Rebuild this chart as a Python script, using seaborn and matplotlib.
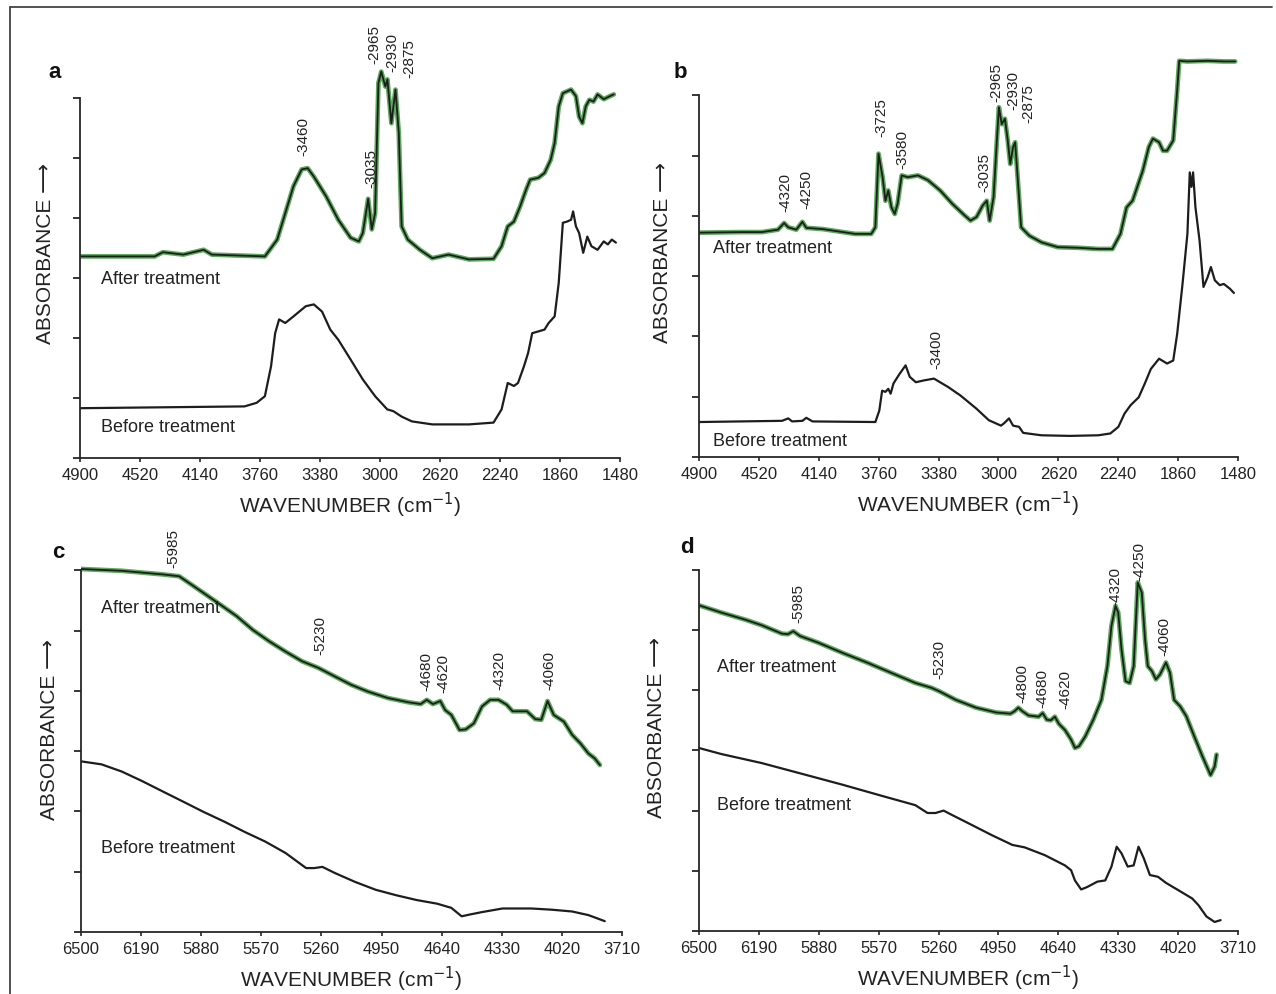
import matplotlib
matplotlib.use("Agg")
import matplotlib.pyplot as plt
import seaborn as sns
from matplotlib.lines import Line2D

sns.set_style("ticks")
plt.rcParams["font.family"] = ["Liberation Sans", "DejaVu Sans"]
plt.rcParams["axes.linewidth"] = 1.3

# ---- Panel a (4900-1480 cm-1) ----
a_despues_wn = [4892, 4427, 4375, 4246, 4117, 4065, 3729, 3651, 3600, 3548, 3496, 3458,
                3419, 3341, 3264, 3186, 3134, 3109, 3075, 3052, 3031, 3010, 2992, 2966,
                2953, 2928, 2902, 2881, 2863, 2824, 2747, 2669, 2566, 2437, 2281, 2230,
                2191, 2152, 2113, 2075, 2049, 1997, 1958, 1919, 1894, 1868, 1842, 1790,
                1759, 1739, 1718, 1697, 1674, 1648, 1622, 1583, 1545, 1519]
a_despues_ab = [3.36, 3.36, 3.43, 3.39, 3.47, 3.39, 3.36, 3.64, 4.08, 4.53, 4.81, 4.83,
                4.69, 4.36, 3.97, 3.67, 3.61, 3.75, 4.32, 3.81, 4.08, 6.25, 6.44, 6.19,
                6.31, 5.58, 6.14, 5.42, 3.86, 3.64, 3.47, 3.33, 3.39, 3.31, 3.32, 3.53,
                3.86, 3.94, 4.19, 4.47, 4.64, 4.67, 4.75, 4.97, 5.25, 5.86, 6.08, 6.14,
                6.03, 5.69, 5.58, 5.86, 5.97, 5.94, 6.06, 5.98, 6.03, 6.06]
a_antes_wn = [4900, 3858, 3781, 3729, 3690, 3664, 3639, 3600, 3548, 3470, 3419, 3367,
              3315, 3264, 3186, 3109, 3031, 2954, 2915, 2863, 2798, 2669, 2437, 2281,
              2230, 2191, 2152, 2126, 2088, 2062, 2036, 1997, 1958, 1932, 1894, 1868,
              1842, 1816, 1790, 1777, 1759, 1739, 1713, 1687, 1661, 1622, 1583, 1557,
              1532, 1506]
a_antes_ab = [0.83, 0.86, 0.92, 1.03, 1.53, 2.08, 2.31, 2.25, 2.36, 2.53, 2.56, 2.44,
              2.14, 1.97, 1.64, 1.31, 1.03, 0.81, 0.78, 0.69, 0.61, 0.56, 0.56, 0.59,
              0.81, 1.25, 1.20, 1.25, 1.53, 1.75, 2.08, 2.11, 2.14, 2.25, 2.36, 2.92,
              3.92, 3.94, 3.97, 4.11, 3.86, 3.75, 3.42, 3.69, 3.53, 3.47, 3.61, 3.56,
              3.64, 3.59]
a_picos = ["-3460", "-3035", "-2965", "-2930", "-2875"]
a_picos_x = [3483, 3057, 3036, 2920, 2811]
a_picos_y = [5.03, 4.50, 6.56, 6.44, 6.33]

# ---- Panel b (4900-1480 cm-1) ----
b_despues_wn = [4900, 4630, 4501, 4399, 4360, 4334, 4283, 4244, 4219, 4116, 4064, 3910,
                3807, 3781, 3761, 3735, 3717, 3699, 3679, 3658, 3640, 3614, 3576, 3511,
                3447, 3370, 3293, 3216, 3177, 3139, 3100, 3074, 3056, 3031, 3010, 2997,
                2979, 2959, 2941, 2925, 2907, 2894, 2874, 2856, 2804, 2727, 2624, 2496,
                2367, 2277, 2226, 2187, 2149, 2084, 2046, 2020, 1981, 1956, 1930, 1891,
                1866, 1853, 1801, 1673, 1570, 1498]
b_despues_ab = [3.72, 3.73, 3.73, 3.77, 3.88, 3.81, 3.77, 3.90, 3.80, 3.78, 3.76, 3.70,
                3.70, 3.81, 5.03, 4.64, 4.25, 4.42, 4.14, 4.03, 4.20, 4.67, 4.64, 4.67,
                4.59, 4.42, 4.20, 4.01, 3.92, 3.98, 4.17, 4.25, 3.92, 4.31, 5.25, 5.80,
                5.52, 5.61, 5.25, 4.86, 5.14, 5.22, 4.48, 3.81, 3.67, 3.56, 3.48, 3.47,
                3.45, 3.45, 3.70, 4.14, 4.25, 4.75, 5.14, 5.28, 5.22, 5.08, 5.08, 5.25,
                6.08, 6.57, 6.56, 6.57, 6.56, 6.56]
b_antes_wn = [4900, 4373, 4334, 4309, 4244, 4219, 4180, 3781, 3756, 3738, 3717, 3699,
              3684, 3666, 3627, 3589, 3563, 3524, 3473, 3409, 3319, 3241, 3139, 3061,
              2984, 2964, 2933, 2907, 2869, 2843, 2727, 2547, 2367, 2290, 2239, 2200,
              2161, 2110, 2071, 2033, 1981, 1930, 1891, 1866, 1832, 1801, 1786, 1775,
              1765, 1750, 1724, 1699, 1673, 1652, 1627, 1596, 1570, 1531, 1506]
b_antes_ab = [0.58, 0.60, 0.64, 0.59, 0.60, 0.65, 0.59, 0.58, 0.77, 1.10, 1.08, 1.13,
              1.05, 1.22, 1.38, 1.52, 1.33, 1.24, 1.27, 1.30, 1.16, 1.02, 0.80, 0.61,
              0.52, 0.56, 0.64, 0.52, 0.50, 0.40, 0.36, 0.35, 0.36, 0.39, 0.50, 0.72,
              0.86, 0.99, 1.22, 1.46, 1.63, 1.55, 1.60, 2.04, 2.87, 3.70, 4.72, 4.48,
              4.72, 4.14, 3.59, 2.82, 2.98, 3.15, 2.93, 2.85, 2.87, 2.79, 2.72]
b_picos = ["-4320", "-4250", "-3725", "-3580", "-3035", "-2965", "-2930", "-2875", "-3400"]
b_picos_x = [4355, 4219, 3743, 3607, 3087, 3010, 2907, 2810, 3396]
b_picos_y = [4.06, 4.12, 5.30, 4.78, 4.39, 5.88, 5.75, 5.54, 1.46]

# ---- Panel c (6500-3710 cm-1) ----
c_despues_wn = [6500, 6289, 6078, 5994, 5930, 5867, 5782, 5698, 5614, 5529, 5445, 5360,
                5276, 5192, 5107, 5023, 4917, 4812, 4748, 4717, 4685, 4647, 4622, 4590,
                4548, 4516, 4474, 4432, 4390, 4347, 4305, 4274, 4200, 4157, 4126, 4094,
                4062, 4010, 3967, 3925, 3883, 3851, 3824]
c_despues_ab = [6.02, 5.99, 5.93, 5.90, 5.76, 5.62, 5.43, 5.24, 5.01, 4.82, 4.65, 4.49,
                4.38, 4.24, 4.10, 3.99, 3.88, 3.81, 3.78, 3.85, 3.78, 3.83, 3.68, 3.60,
                3.35, 3.36, 3.46, 3.74, 3.85, 3.85, 3.77, 3.66, 3.66, 3.53, 3.52, 3.83,
                3.60, 3.49, 3.27, 3.13, 2.96, 2.88, 2.77]
c_antes_wn = [6500, 6394, 6289, 6183, 6078, 5972, 5867, 5761, 5656, 5550, 5445, 5339,
              5297, 5255, 5192, 5086, 4980, 4875, 4769, 4664, 4590, 4537, 4495, 4432,
              4326, 4179, 4073, 3967, 3883, 3799]
c_antes_ab = [2.83, 2.78, 2.66, 2.50, 2.33, 2.16, 1.99, 1.83, 1.66, 1.50, 1.31, 1.06,
              1.06, 1.08, 0.98, 0.83, 0.70, 0.61, 0.53, 0.47, 0.40, 0.26, 0.29, 0.33,
              0.39, 0.39, 0.37, 0.34, 0.28, 0.18]
c_picos = ["-5985", "-5230", "-4680", "-4620", "-4320", "-4060"]
c_picos_x = [6025, 5265, 4717, 4632, 4343, 4084]
c_picos_y = [6.04, 4.60, 3.99, 3.96, 4.02, 4.02]

# ---- Panel d (6500-3710 cm-1) ----
d_despues_wn = [6500, 6385, 6259, 6176, 6071, 6040, 6012, 5977, 5883, 5757, 5631, 5506,
                5380, 5297, 5255, 5171, 5066, 4962, 4888, 4867, 4847, 4826, 4794, 4742,
                4721, 4700, 4679, 4658, 4637, 4606, 4574, 4554, 4533, 4501, 4459, 4417,
                4386, 4365, 4344, 4330, 4313, 4292, 4271, 4250, 4229, 4208, 4191, 4177,
                4156, 4135, 4114, 4083, 4062, 4041, 4009, 3978, 3936, 3894, 3852, 3831,
                3821]
d_despues_ab = [5.41, 5.29, 5.17, 5.08, 4.94, 4.93, 4.98, 4.90, 4.79, 4.62, 4.46, 4.29,
                4.12, 4.04, 3.98, 3.84, 3.71, 3.63, 3.61, 3.65, 3.71, 3.65, 3.58, 3.56,
                3.62, 3.51, 3.50, 3.56, 3.44, 3.34, 3.18, 3.04, 3.07, 3.23, 3.51, 3.84,
                4.40, 5.07, 5.40, 5.29, 4.68, 4.15, 4.12, 4.40, 5.79, 5.62, 4.84, 4.40,
                4.32, 4.18, 4.26, 4.46, 4.29, 3.84, 3.73, 3.57, 3.23, 2.90, 2.59, 2.73,
                2.93]
d_antes_wn = [6500, 6385, 6176, 5966, 5757, 5548, 5380, 5317, 5276, 5234, 5192, 5087,
              4983, 4878, 4815, 4710, 4606, 4574, 4554, 4522, 4491, 4438, 4397, 4365,
              4338, 4313, 4281, 4250, 4225, 4198, 4166, 4124, 4083, 4020, 3947, 3915,
              3873, 3831, 3800]
d_antes_ab = [3.04, 2.94, 2.79, 2.61, 2.43, 2.24, 2.09, 1.96, 1.96, 2.00, 1.93, 1.76,
              1.59, 1.43, 1.39, 1.26, 1.09, 1.01, 0.84, 0.69, 0.73, 0.82, 0.84, 1.07,
              1.40, 1.29, 1.07, 1.09, 1.40, 1.21, 0.93, 0.90, 0.80, 0.68, 0.54, 0.43,
              0.24, 0.15, 0.18]
d_picos = ["-5985", "-5230", "-4800", "-4680", "-4620", "-4320", "-4250", "-4060"]
d_picos_x = [5987, 5255, 4826, 4721, 4606, 4344, 4219, 4093]
d_picos_y = [5.12, 4.18, 3.79, 3.71, 3.68, 5.40, 5.82, 4.57]

ticks_medio = [4900, 4520, 4140, 3760, 3380, 3000, 2620, 2240, 1860, 1480]
ticks_cercano = [6500, 6190, 5880, 5570, 5260, 4950, 4640, 4330, 4020, 3710]

NEGRO = "#1d1d1d"
VERDE = "#3e9b3e"
TEXTO = "#222222"


def dibujar_panel(ax, letra, ticks, despues, antes, picos, pos_letra, pos_despues, pos_antes,
                  ytop, ylab_xy):
    # curva "after treatment": halo verde con linea oscura encima
    sns.lineplot(x=despues[0], y=despues[1], sort=False, estimator=None, color=VERDE,
                 lw=3.4, alpha=0.85, ax=ax)
    sns.lineplot(x=despues[0], y=despues[1], sort=False, estimator=None, color=NEGRO,
                 lw=1.3, ax=ax)
    sns.lineplot(x=antes[0], y=antes[1], sort=False, estimator=None, color=NEGRO,
                 lw=1.6, ax=ax)

    ax.set_facecolor("none")
    ax.set_xlim(ticks[0], ticks[-1])
    ax.set_ylim(0, ytop)
    ax.set_xticks(ticks)
    ax.set_xticklabels([str(t) for t in ticks], fontsize=12, color=TEXTO)
    ax.set_yticks(range(7))
    ax.set_yticklabels([])
    ax.tick_params(axis="y", direction="out", length=5, width=1.3)
    ax.tick_params(axis="x", direction="out", length=3, width=1.2, pad=4)
    sns.despine(ax=ax)
    ax.spines["left"].set_bounds(0, 6)

    ax.set_xlabel("WAVENUMBER (cm$^{-1}$)", fontsize=15, labelpad=6, color=TEXTO)
    ax.set_ylabel("ABSORBANCE \u27f6", fontsize=15, color=TEXTO,
                  family=["Liberation Sans", "DejaVu Sans"])
    ax.yaxis.set_label_coords(*ylab_xy)

    for txt, px, py in zip(*picos):
        ax.text(px, py, txt, rotation=90, ha="center", va="bottom", fontsize=11,
                color=TEXTO)

    ax.text(pos_letra[0], pos_letra[1], letra, fontsize=16, fontweight="bold",
            ha="center", va="center", clip_on=False, color="#111111")
    ax.text(pos_despues[0], pos_despues[1], "After treatment", fontsize=13,
            ha="left", va="center", color=TEXTO)
    ax.text(pos_antes[0], pos_antes[1], "Before treatment", fontsize=13,
            ha="left", va="center", color=TEXTO)


fig = plt.figure(figsize=(12.76, 9.94), dpi=100)
W, H = 1276, 994

ax_a = fig.add_axes([80 / W, (H - 458) / H, 540 / W, 7.5 * 60 / H])
ax_b = fig.add_axes([699 / W, (H - 457) / H, 539 / W, 7.5 * 60.3 / H])
ax_c = fig.add_axes([81 / W, (H - 932) / H, 541 / W, 7.0 * 60.3 / H])
ax_d = fig.add_axes([699 / W, (H - 931) / H, 539 / W, 7.0 * 60.2 / H])

dibujar_panel(ax_a, "a", ticks_medio, (a_despues_wn, a_despues_ab), (a_antes_wn, a_antes_ab),
              (a_picos, a_picos_x, a_picos_y), (5060, 6.42), (4768, 2.97), (4768, 0.50),
              7.5, (-0.046, 0.454))
dibujar_panel(ax_b, "b", ticks_medio, (b_despues_wn, b_despues_ab), (b_antes_wn, b_antes_ab),
              (b_picos, b_picos_x, b_picos_y), (5016, 6.38), (4810, 3.45), (4810, 0.25),
              7.5, (-0.050, 0.453))
dibujar_panel(ax_c, "c", ticks_cercano, (c_despues_wn, c_despues_ab), (c_antes_wn, c_antes_ab),
              (c_picos, c_picos_x, c_picos_y), (6616, 6.29), (6399, 5.37), (6399, 1.39),
              7.0, (-0.041, 0.479))
dibujar_panel(ax_d, "d", ticks_cercano, (d_despues_wn, d_despues_ab), (d_antes_wn, d_antes_ab),
              (d_picos, d_picos_x, d_picos_y), (6563, 6.37), (6406, 4.37), (6406, 2.09),
              7.0, (-0.061, 0.482))

# marco del escaneo (borde izquierdo y superior)
fig.add_artist(Line2D([10 / W, 10 / W], [0, 1 - 7 / H], transform=fig.transFigure,
                      color="#444444", lw=1.3))
fig.add_artist(Line2D([10 / W, 1 - 4 / W], [1 - 7 / H, 1 - 7 / H], transform=fig.transFigure,
                      color="#444444", lw=1.3))

fig.savefig("out.png", dpi=100, facecolor="white")
